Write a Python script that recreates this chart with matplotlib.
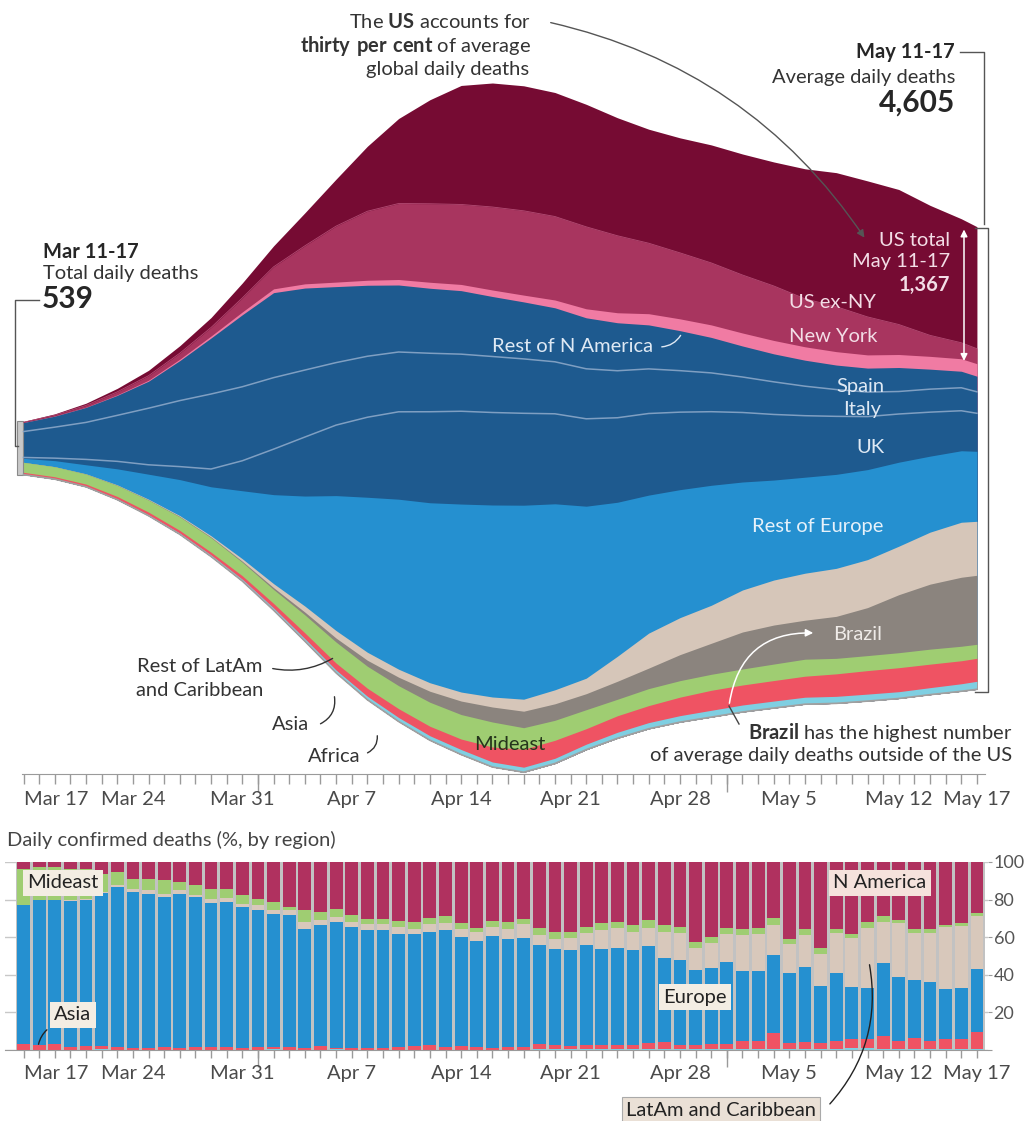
import numpy as np
import matplotlib
matplotlib.use("Agg")
from matplotlib import pyplot as plt
from matplotlib.lines import Line2D
from matplotlib.patches import Rectangle, FancyArrowPatch

plt.rcParams["font.family"] = "Lato"
plt.rcParams["mathtext.fontset"] = "custom"
plt.rcParams["mathtext.rm"] = "Lato"
plt.rcParams["mathtext.bf"] = "Lato:bold"

W, H = 1024, 1121

# Stream: 7-day average daily deaths, day 0 = Mar 17 (Mar 11-17) ... day 61 = May 17
days = [0, 2, 4, 6, 8, 10, 12, 14, 16, 18, 20, 22, 24, 26, 28, 30,
        32, 34, 36, 38, 40, 42, 44, 46, 48, 50, 52, 54, 56, 58, 60, 61]
us_ex_ny = [9, 14, 22, 35, 54, 75, 100, 150, 210, 330, 470, 650, 850, 1040, 1190, 1240,
            1250, 1240, 1225, 1180, 1140, 1150, 1180, 1210, 1240, 1300, 1340, 1360, 1350, 1300, 1240, 1220]
new_york = [3, 8, 18, 30, 45, 60, 85, 140, 220, 380, 560, 690, 760, 785, 800, 830,
            843, 835, 820, 770, 705, 660, 620, 580, 545, 480, 450, 380, 300, 210, 160, 150]
rest_n_america = [0, 1, 2, 5, 10, 14, 20, 28, 38, 42, 45, 50, 55, 60, 62, 65,
                  68, 78, 90, 100, 112, 118, 125, 130, 134, 134, 134, 132, 130, 128, 125, 125]
spain = [90, 110, 150, 200, 270, 400, 560, 720, 850, 820, 760, 710, 670, 650, 635, 600,
         570, 540, 510, 480, 440, 400, 355, 310, 280, 260, 245, 240, 240, 200, 165, 156]
italy = [259, 310, 370, 460, 566, 660, 750, 740, 715, 670, 625, 610, 598, 585, 571, 560,
         544, 520, 500, 470, 446, 415, 388, 355, 326, 295, 268, 245, 225, 230, 230, 215]
uk = [9, 25, 54, 75, 94, 130, 178, 300, 455, 590, 705, 800, 874, 910, 928, 925,
      919, 900, 874, 845, 816, 775, 736, 695, 656, 615, 580, 530, 482, 440, 400, 380]
rest_europe = [40, 60, 90, 160, 250, 360, 490, 680, 890, 1100, 1350, 1550, 1700, 1800, 1880, 1920,
               1940, 1860, 1720, 1540, 1380, 1280, 1200, 1080, 1000, 960, 940, 900, 840, 760, 715, 700]
latam_rest = [0, 1, 2, 4, 6, 8, 12, 25, 40, 60, 75, 80, 80, 85, 90, 100,
              120, 140, 155, 250, 350, 370, 380, 420, 450, 470, 480, 480, 485, 520, 550, 540]
brazil = [0, 0, 1, 2, 3, 5, 7, 10, 18, 28, 40, 60, 85, 110, 135, 150,
          165, 165, 160, 180, 205, 260, 310, 370, 390, 390, 420, 480, 580, 650, 690, 690]
mideast = [100, 100, 100, 110, 120, 135, 145, 135, 140, 180, 210, 220, 230, 240, 245, 250,
           215, 200, 190, 165, 170, 165, 160, 160, 165, 170, 155, 150, 150, 150, 145, 140]
asia = [20, 20, 22, 25, 27, 27, 28, 35, 45, 58, 70, 80, 88, 95, 105, 150,
        180, 180, 155, 165, 170, 185, 200, 200, 205, 210, 225, 235, 240, 235, 230, 230]
africa = [3, 4, 5, 7, 9, 12, 15, 18, 22, 25, 28, 35, 40, 45, 50, 50,
          50, 52, 55, 60, 62, 65, 68, 70, 70, 70, 70, 70, 68, 70, 75, 80]
# vertical position of the stream's middle (deaths above the reference line)
centre = [-80, -65, -50, -40, -30, 0, 30, 80, 120, 130, 140, 170, 200, 200, 200, 150,
          110, 120, 130, 120, 110, 100, 90, 70, 50, 35, 20, -10, -40, -100, -150, -180]

# Bars: share of daily confirmed deaths (%), one bar per day Mar 17 .. May 17
bar_days = list(range(62))
na_pct = [3.5, 2.7, 2.7, 3.5, 3.5, 6.2, 5.3, 8.8, 8.8, 9.7,
          10.6, 12.4, 14.6, 14.6, 17.7, 19.5, 21.2, 23.9, 25.7, 26.5,
          25.3, 28.3, 30.1, 30.1, 31.3, 31.9, 29.6, 28.8, 32.7, 34.9,
          31.3, 31.9, 30.1, 34.9, 37.2, 37.2, 34.5, 32.7, 31.9, 33.6,
          31.0, 33.6, 34.5, 42.5, 39.8, 34.9, 35.4, 34.9, 29.6, 40.7,
          35.9, 46.0, 35.4, 38.1, 31.9, 28.8, 30.6, 35.9, 35.9, 33.6,
          32.4, 27.1]
mideast_pct = [19.5, 17.5, 17.7, 16.8, 16.0, 9.8, 7.1, 5.3, 6.2, 7.1,
               4.4, 5.3, 5.3, 4.8, 4.4, 3.5, 4.4, 1.8, 6.2, 4.4,
               3.9, 3.5, 2.7, 2.7, 3.5, 3.5, 3.5, 3.5, 3.2, 2.3,
               3.5, 3.5, 2.7, 4.1, 3.5, 3.0, 3.2, 3.5, 3.0, 3.5,
               3.9, 3.5, 3.2, 3.0, 3.5, 3.2, 3.5, 3.5, 4.1, 2.7,
               3.0, 2.7, 2.3, 2.1, 3.0, 3.0, 1.8, 2.1, 2.1, 1.2,
               1.8, 1.8]
latam_pct = [0, 0, 0, 0.3, 0.5, 0.5, 0.9, 1.8, 1.8, 1.8,
             1.8, 0.9, 1.8, 1.8, 1.8, 2.7, 2.3, 2.3, 3.5, 2.7,
             2.7, 2.7, 3.5, 3.5, 3.2, 3.0, 4.1, 3.9, 4.2, 4.8,
             4.6, 5.8, 7.4, 5.3, 5.8, 6.4, 6.5, 10.3, 10.6, 9.7,
             9.9, 14.2, 14.5, 11.7, 13.3, 15.0, 18.9, 19.5, 15.9, 15.6,
             16.8, 17.3, 21.2, 26.2, 31.9, 22.1, 29.0, 24.8, 25.7, 32.9,
             32.6, 27.8]
europe_pct = [73.8, 77.3, 76.3, 78.0, 78.0, 81.4, 85.0, 83.2, 82.3, 79.6,
              82.3, 79.6, 76.8, 77.3, 75.2, 72.9, 70.6, 70.3, 63.7, 64.2,
              67.3, 64.6, 62.5, 62.8, 60.4, 59.5, 60.2, 62.0, 58.0, 56.6,
              59.3, 57.0, 58.4, 52.6, 50.8, 51.1, 53.1, 51.1, 51.9, 50.4,
              51.7, 44.2, 45.1, 40.2, 40.4, 43.9, 37.3, 37.3, 41.6, 37.2,
              39.8, 30.1, 36.5, 28.0, 27.1, 38.9, 33.8, 31.0, 31.3, 26.5,
              27.1, 33.6]
asia_pct = [3.2, 2.5, 3.3, 1.4, 2.0, 1.8, 1.8, 0.9, 0.9, 1.8,
            0.9, 1.8, 1.5, 1.5, 0.9, 1.4, 1.5, 1.7, 0.9, 2.2,
            0.9, 0.9, 1.2, 0.9, 1.5, 2.1, 2.6, 1.8, 1.9, 1.4,
            1.3, 1.8, 1.4, 2.7, 2.1, 1.8, 2.1, 1.9, 2.1, 2.2,
            3.0, 3.9, 2.1, 2.1, 2.4, 2.4, 4.2, 4.2, 8.3, 3.4,
            4.0, 3.4, 4.1, 4.8, 5.3, 6.5, 4.2, 5.7, 4.4, 5.1,
            5.5, 9.2]
africa_pct = [0.0, 0.0, 0.0, 0.0, 0.0, 0.3, 0.0, 0.0, 0.0, 0.0,
              0.0, 0.0, 0.0, 0.0, 0.0, 0.0, 0.3, 0.0, 0.0, 0.0,
              0.3, 0.0, 0.0, 0.0, 0.0, 0.0, 0.0, 0.0, 0.0, 0.0,
              0.0, 0.0, 0.0, 0.4, 0.6, 0.5, 0.6, 0.5, 0.5, 0.6,
              0.5, 0.6, 0.6, 0.5, 0.6, 0.6, 0.7, 0.6, 0.5, 0.4,
              0.5, 0.5, 0.5, 0.8, 0.8, 0.7, 0.6, 0.5, 0.6, 0.7,
              0.6, 0.5]

tick_days = [0, 7, 14, 21, 28, 35, 42, 49, 56, 61]
tick_labels = ["Mar 17", "Mar 24", "Mar 31", "Apr 7", "Apr 14", "Apr 21",
               "Apr 28", "May 5", "May 12", "May 17"]
month_start_days = [15, 45]

PX0, PX_PER_DAY = 23.5, 15.63
GREY = "#9a9a9a"
DARK = "#262626"
FS = 14.5      # annotation text size
BIG = 21.5     # headline numbers


def fxy(x, y):
    return x / W, 1 - y / H


def day_of(px):
    return (px - PX0) / PX_PER_DAY


def px_line(xs, ys, color="#555555", lw=1.0):
    fig.add_artist(Line2D([x / W for x in xs], [1 - y / H for y in ys],
                          transform=fig.transFigure, color=color, lw=lw))


def leader(start, end, rad, color="#333333", style="-", lw=1.0):
    fig.add_artist(FancyArrowPatch(
        fxy(*start), fxy(*end), transform=fig.transFigure, arrowstyle=style,
        connectionstyle=f"arc3,rad={rad}", color=color, lw=lw, mutation_scale=11))


def style_date_axis(ax, length):
    ax.set_xticks(bar_days, minor=True)
    ax.set_xticks(tick_days)
    ax.set_xticklabels(tick_labels)
    ax.tick_params(axis="x", which="both", length=length, width=1, color=GREY,
                   labelsize=14.5, labelcolor="#4a4a4a", pad=5)
    ax.get_xticklabels()[0].set_horizontalalignment("left")
    sec = ax.secondary_xaxis("bottom")
    sec.set_xticks(month_start_days)
    sec.tick_params(length=length + 6, width=1, color=GREY, labelbottom=False)
    sec.spines["bottom"].set_visible(False)


fig = plt.figure(figsize=(W / 100, H / 100), dpi=100)

# ---------------- stream graph ----------------
ax = fig.add_axes([22 / W, 1 - 774 / H, (985 - 22) / W, 774 / H])
ax.set_xlim(day_of(22), day_of(985))
ax.set_ylim(-(774 - 440) * 10, 440 * 10)

x = np.array(days, dtype=float)
layers = [africa, asia, mideast, brazil, latam_rest, rest_europe, uk, italy, spain,
          rest_n_america, new_york, us_ex_ny]
colors = ["#7fcfe2", "#ef5363", "#9fcd72", "#8b847e", "#d6c6b9", "#2590d0", "#1e5a8f",
          "#1e5a8f", "#1e5a8f", "#f07ba3", "#a8355f", "#760b33"]
vals = np.array(layers, dtype=float)
total = vals.sum(axis=0)
base = np.array(centre) - total / 2
tops = base + np.cumsum(vals, axis=0)
for i in range(len(layers) - 1, -1, -1):
    ax.fill_between(x, base, tops[i], color=colors[i], lw=0)
# thin separators inside the dark blue (UK / Italy / Spain)
ax.plot(x, tops[6], color="#7f9fc2", lw=1.1)
ax.plot(x, tops[7], color="#7f9fc2", lw=1.1)
ax.plot(x, tops[10], color="#b34c74", lw=0.6)
ax.plot(x, base, color="#a0a0a0", lw=1.2)

for side in ["top", "left", "right"]:
    ax.spines[side].set_visible(False)
ax.spines["bottom"].set_color(GREY)
ax.set_yticks([])
style_date_axis(ax, 7)

# total bar at the start
ax.add_patch(Rectangle((day_of(17), base[0]), day_of(23) - day_of(17), total[0],
                       facecolor="#c8c8c8", edgecolor="#8a8a8a", lw=0.8, clip_on=False))

# US total arrow
ax.annotate("", xy=(day_of(964), tops[-1][-1]), xytext=(day_of(964), tops[9][-1]),
            arrowprops=dict(arrowstyle="<|-|>", color="white", lw=1.1, mutation_scale=10))

# ---------------- annotations ----------------
txt = dict(fontsize=FS, color="#333333")
fig.text(*fxy(531, 22), r"The $\bf{US}$ accounts for", ha="right", va="center", **txt)
fig.text(*fxy(531, 46), r"$\bf{thirty\ per\ cent}$ of average", ha="right", va="center", **txt)
fig.text(*fxy(529, 69), "global daily deaths", ha="right", va="center", **txt)
leader((548, 22), (866, 240), -0.2, color="#555555", style="-|>")

fig.text(*fxy(955, 52), "May 11-17", ha="right", va="center", fontsize=FS, weight="bold", color=DARK)
fig.text(*fxy(955, 77), "Average daily deaths", ha="right", va="center", **txt)
fig.text(*fxy(955, 103), "4,605", ha="right", va="center", fontsize=BIG, weight="bold", color=DARK)
px_line([960, 984, 984], [52, 52, 224])
px_line([975, 988, 988, 975], [228, 228, 692, 692])

fig.text(*fxy(43, 252), "Mar 11-17", ha="left", va="center", fontsize=FS, weight="bold", color=DARK)
fig.text(*fxy(43, 274), "Total daily deaths", ha="left", va="center", **txt)
fig.text(*fxy(42, 299), "539", ha="left", va="center", fontsize=BIG, weight="bold", color=DARK)
px_line([39, 15, 15, 18], [300, 300, 446, 446])

light_red = "#f3dde6"
light_blue = "#dfe9f4"
fig.text(*fxy(950, 240), "US total", ha="right", va="center", fontsize=FS, color=light_red)
fig.text(*fxy(950, 262), "May 11-17", ha="right", va="center", fontsize=FS, color=light_red)
fig.text(*fxy(950, 285), "1,367", ha="right", va="center", fontsize=FS, weight="bold", color=light_red)
fig.text(*fxy(832, 302), "US ex-NY", ha="center", va="center", fontsize=FS, color=light_red)
fig.text(*fxy(833, 337), "New York", ha="center", va="center", fontsize=FS, color=light_red)
fig.text(*fxy(573, 346), "Rest of N America", ha="center", va="center", fontsize=FS, color=light_blue)
leader((659, 347), (682, 333), 0.3, color=light_blue)
fig.text(*fxy(860, 387), "Spain", ha="center", va="center", fontsize=FS, color=light_blue)
fig.text(*fxy(862, 409), "Italy", ha="center", va="center", fontsize=FS, color=light_blue)
fig.text(*fxy(870, 448), "UK", ha="center", va="center", fontsize=FS, color=light_blue)
fig.text(*fxy(818, 526), "Rest of Europe", ha="center", va="center", fontsize=FS, color="#e6f1fa")
fig.text(*fxy(858, 635), "Brazil", ha="center", va="center", fontsize=FS, color="#efebe8")
fig.text(*fxy(510, 744), "Mideast", ha="center", va="center", fontsize=FS, color="#25351c")

fig.text(*fxy(200, 667), "Rest of LatAm", ha="center", va="center", **txt)
fig.text(*fxy(200, 690), "and Caribbean", ha="center", va="center", **txt)
leader((270, 668), (335, 657), 0.2)
fig.text(*fxy(291, 724), "Asia", ha="center", va="center", **txt)
leader((318, 725), (334, 694), 0.4)
fig.text(*fxy(334, 757), "Africa", ha="center", va="center", **txt)
leader((365, 754), (377, 733), 0.4)

fig.text(*fxy(1012, 733), r"$\bf{Brazil}$ has the highest number", ha="right", va="center", **txt)
fig.text(*fxy(1012, 756), "of average daily deaths outside of the US", ha="right", va="center", **txt)
px_line([739, 729], [724, 706], color="#444444")
leader((729, 706), (816, 633), -0.45, color="white", style="-|>", lw=1.1)

# ---------------- bar chart ----------------
fig.text(*fxy(7, 840), "Daily confirmed deaths (%, by region)", ha="left", va="center",
         fontsize=FS, color="#444444")

bx = fig.add_axes([5 / W, 1 - 1050 / H, (988 - 5) / W, 188 / H])
bx.set_xlim(day_of(5), day_of(988))
bx.set_ylim(0, 100)
shares = np.array([africa_pct, asia_pct, europe_pct, latam_pct, mideast_pct, na_pct], dtype=float)
shares = shares / shares.sum(axis=0) * 100
bar_colors = ["#7fcfe2", "#ef5363", "#2590d0", "#d8c8bb", "#9fcd72", "#b0315f"]
bx.bar(bar_days, shares.sum(axis=0), width=1.0, color="#c2c2c2", zorder=1)
bottom = np.zeros(len(bar_days))
for share, c in zip(shares, bar_colors):
    bx.bar(bar_days, share, width=0.82, bottom=bottom, color=c, lw=0, zorder=2)
    bottom += share

for side in ["top", "left", "right"]:
    bx.spines[side].set_visible(False)
bx.spines["bottom"].set_color(GREY)
bx.set_yticks([0, 20, 40, 60, 80, 100])
bx.set_yticklabels(["", "20", "40", "60", "80", "100"])
bx.yaxis.tick_right()
bx.tick_params(axis="y", length=3, color=GREY, labelsize=13, labelcolor="#555555", pad=1)
bx.grid(axis="y", color="#c8c8c8", lw=1, zorder=0)
bx.set_axisbelow(True)
style_date_axis(bx, 6)

box = dict(boxstyle="square,pad=0.2", fc="#f3ede3", ec="none")
fig.text(*fxy(63, 883), "Mideast", ha="center", va="center", fontsize=FS, color="#222222", bbox=box)
fig.text(*fxy(73, 1015), "Asia", ha="center", va="center", fontsize=FS, color="#222222", bbox=box)
leader((49, 1028), (38, 1047), 0.2, color="#222222")
fig.text(*fxy(880, 883), "N America", ha="center", va="center", fontsize=FS, color="#222222",
         bbox=dict(boxstyle="square,pad=0.2", fc="#f5e2dc", ec="none"))
fig.text(*fxy(695, 997), "Europe", ha="center", va="center", fontsize=FS, color="#222222", bbox=box)
fig.text(*fxy(721, 1110), "LatAm and Caribbean", ha="center", va="center", fontsize=FS, color="#222222",
         bbox=dict(boxstyle="square,pad=0.2", fc="#eae0d6", ec="#aaaaaa", lw=0.8))
leader((828, 1106), (869, 962), 0.25, color="#222222")

fig.savefig("out.png", dpi=100)
